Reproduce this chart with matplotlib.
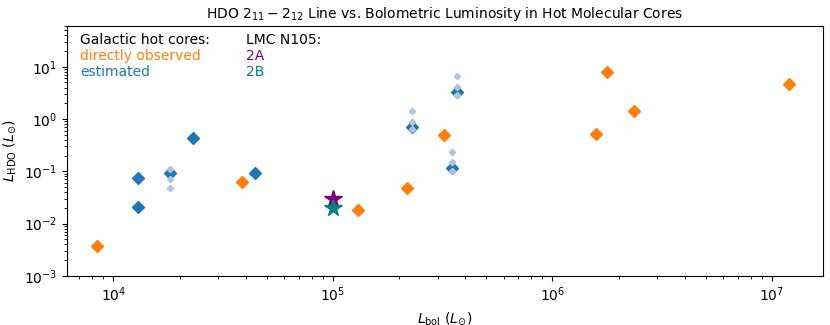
import matplotlib
matplotlib.use("Agg")
import matplotlib.pyplot as plt

# Galactic hot cores, directly observed
obs_lbol = [8.4e3, 3.85e4, 1.3e5, 2.17e5, 3.2e5, 1.58e6, 1.78e6, 2.36e6, 1.2e7]
obs_lhdo = [0.0037, 0.062, 0.018, 0.048, 0.50, 0.52, 7.8, 1.4, 4.7]

# Galactic hot cores, estimated
est_lbol = [1.3e4, 1.3e4, 1.8e4, 2.3e4, 4.4e4, 2.28e5, 3.67e5, 3.47e5]
est_lhdo = [0.074, 0.021, 0.092, 0.43, 0.093, 0.70, 3.3, 0.114]

# Alternative estimates (light)
alt_lbol = [1.8e4, 1.8e4, 1.8e4, 2.28e5, 2.28e5, 2.28e5, 3.67e5, 3.67e5, 3.67e5, 3.47e5, 3.47e5, 3.47e5]
alt_lhdo = [0.11, 0.072, 0.047, 1.45, 0.88, 0.64, 6.6, 4.1, 2.9, 0.23, 0.15, 0.10]

# LMC N105
lmc_names = ["2A", "2B"]
lmc_lbol = [1.0e5, 1.0e5]
lmc_lhdo = [0.029, 0.020]
lmc_colors = ["purple", "teal"]

fig = plt.figure(figsize=(8.3, 3.25), dpi=100)
ax = fig.add_axes([0.0807, 0.151, 0.9103, 0.769])

ax.plot(obs_lbol, obs_lhdo, ls="none", marker="D", ms=6, color="#ff7f0e")
ax.plot(est_lbol, est_lhdo, ls="none", marker="D", ms=6, color="#1f77b4")
ax.plot(alt_lbol, alt_lhdo, ls="none", marker="D", ms=3.2, color="#b0c4de")
for x, y, c in zip(lmc_lbol, lmc_lhdo, lmc_colors):
    ax.plot([x], [y], ls="none", marker="*", ms=13, color=c)

ax.set_xscale("log")
ax.set_yscale("log")
ax.set_xlim(6.14e3, 1.7e7)
ax.set_ylim(1e-3, 60)

ax.set_xlabel(r"$L_{\rm bol}$ ($L_{\odot}$)", fontsize=10)
ax.set_ylabel(r"$L_{\rm HDO}$ ($L_{\odot}$)", fontsize=10)
ax.set_title(r"HDO $2_{11}-2_{12}$ Line vs. Bolometric Luminosity in Hot Molecular Cores", fontsize=10)
ax.tick_params(labelsize=10)

tx = 0.017
ax.text(tx, 0.944, "Galactic hot cores:", transform=ax.transAxes, fontsize=10, va="center", color="black")
ax.text(tx, 0.88, "directly observed", transform=ax.transAxes, fontsize=10, va="center", color="#ff7f0e")
ax.text(tx, 0.816, "estimated", transform=ax.transAxes, fontsize=10, va="center", color="#1f77b4")
tx2 = 0.237
ax.text(tx2, 0.944, "LMC N105:", transform=ax.transAxes, fontsize=10, va="center", color="black")
ax.text(tx2, 0.88, lmc_names[0], transform=ax.transAxes, fontsize=10, va="center", color=lmc_colors[0])
ax.text(tx2, 0.816, lmc_names[1], transform=ax.transAxes, fontsize=10, va="center", color=lmc_colors[1])

fig.savefig("out.png", dpi=100)
